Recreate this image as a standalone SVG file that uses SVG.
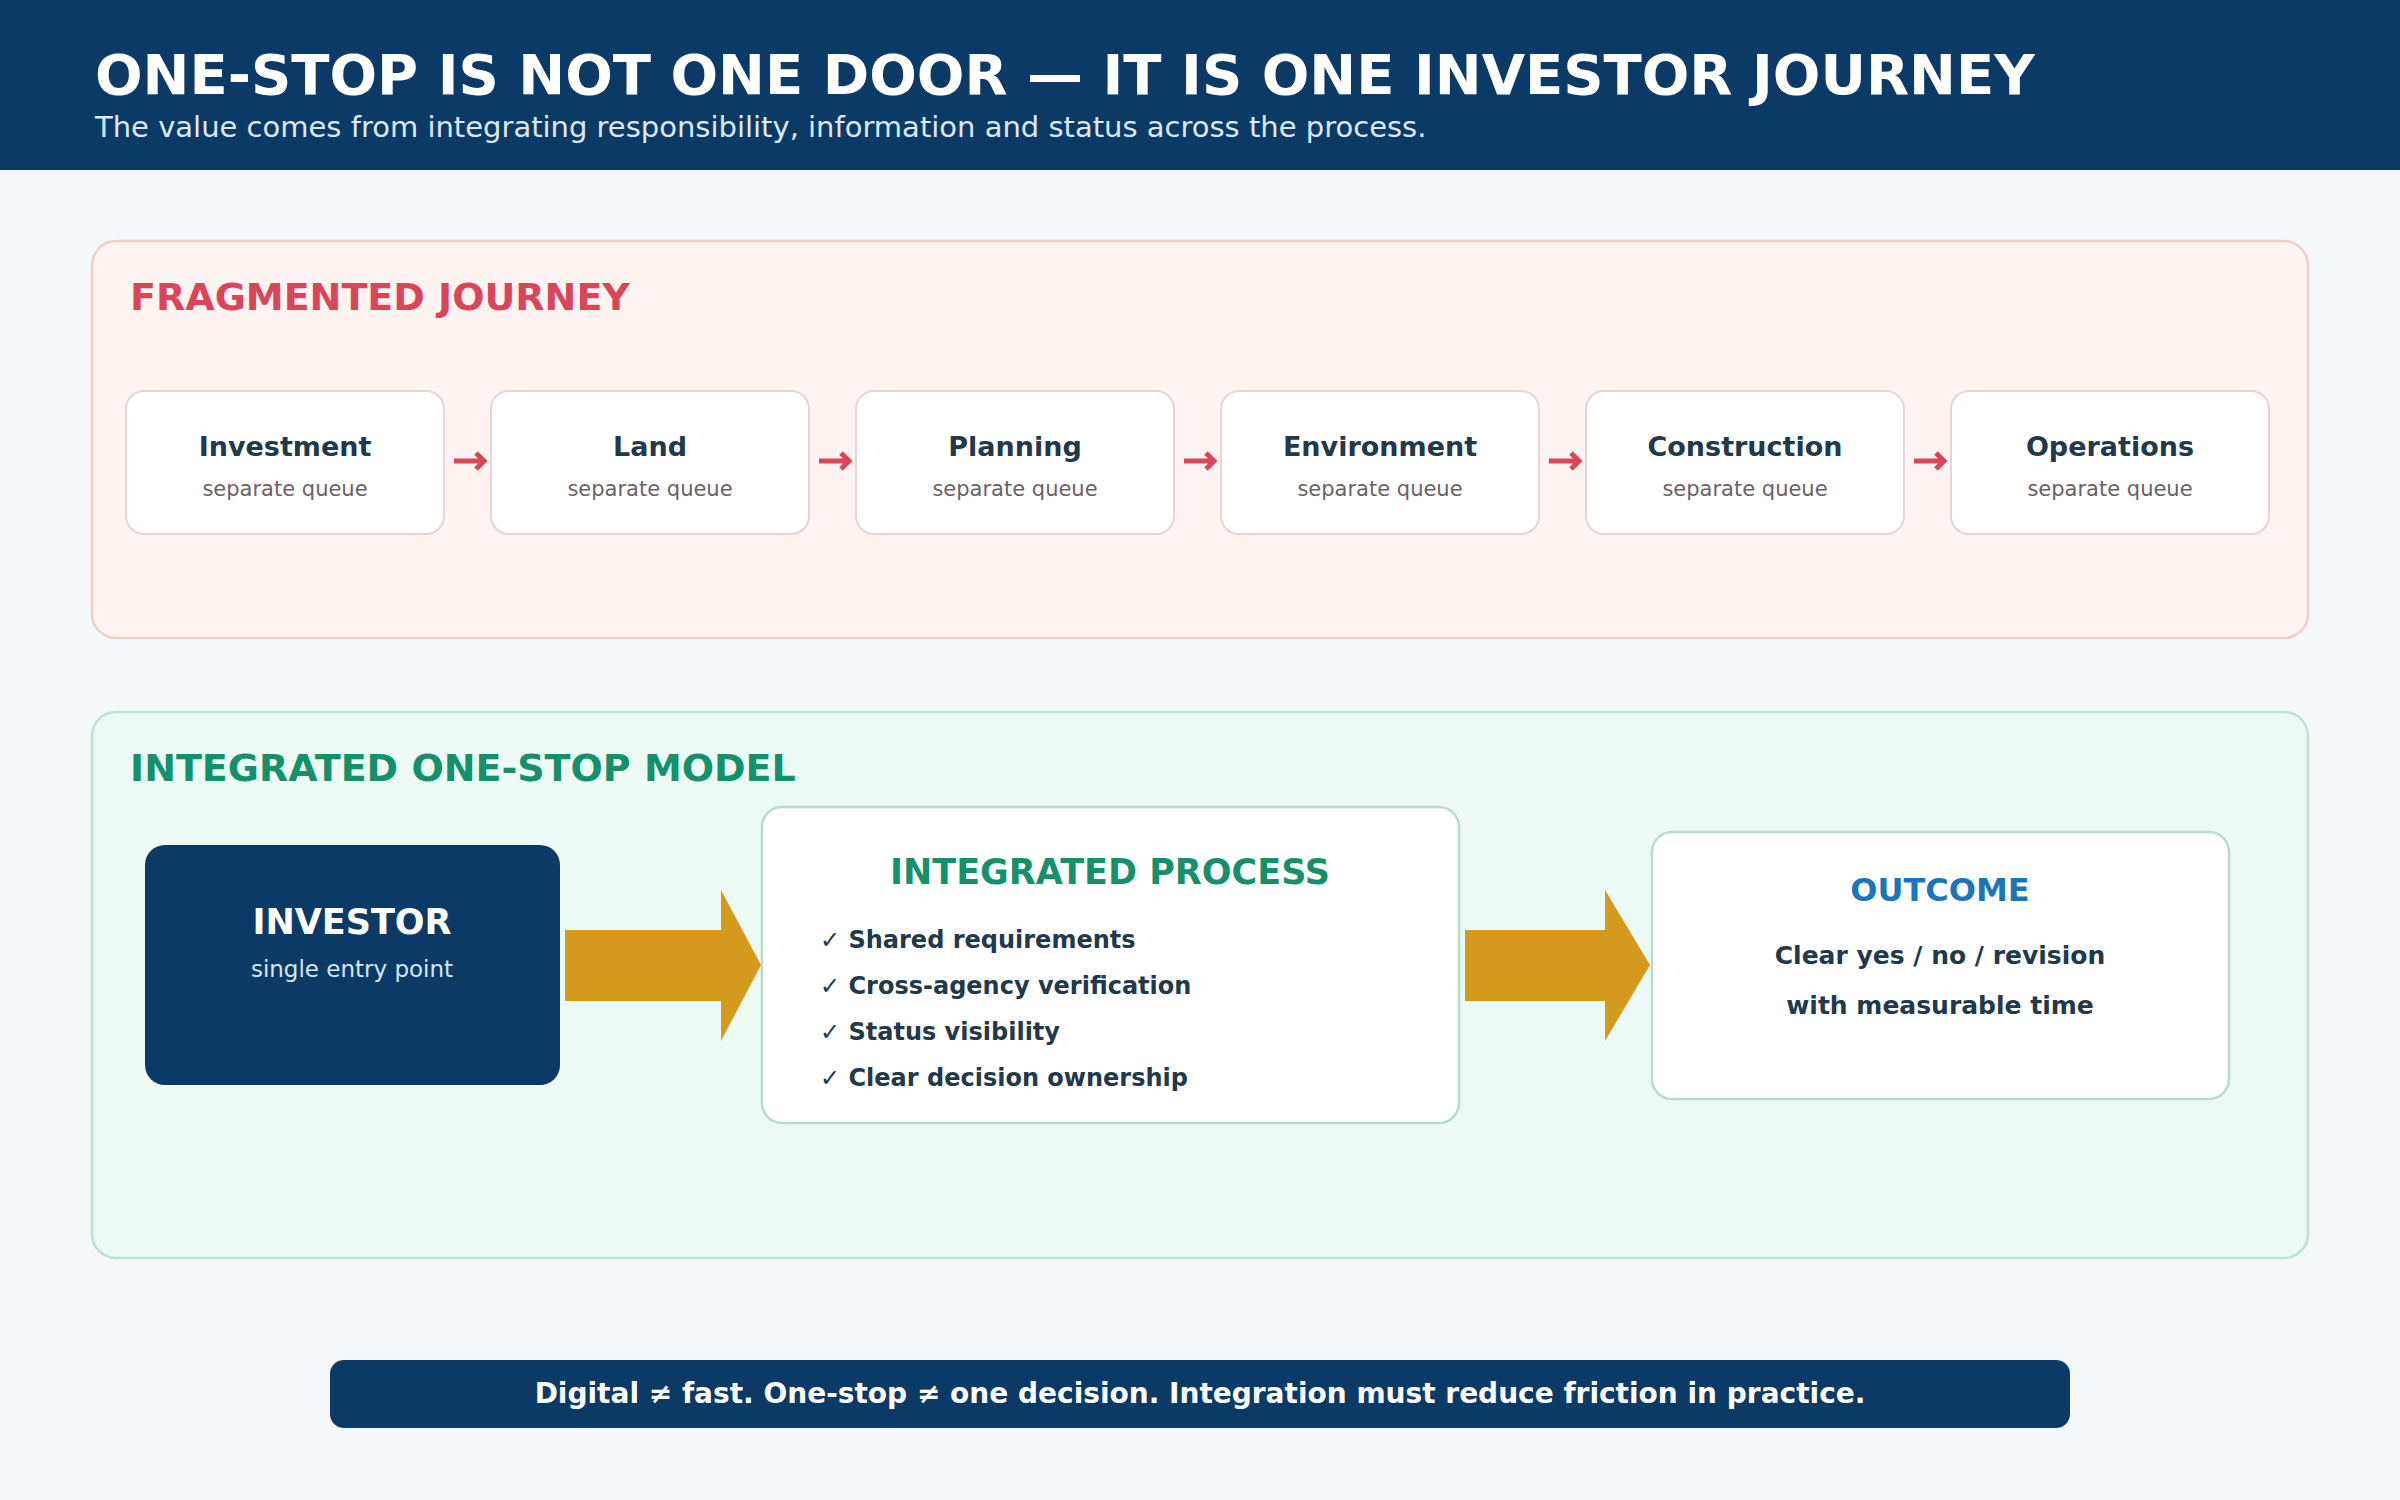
<svg xmlns="http://www.w3.org/2000/svg" width="2400" height="1500" viewBox="0 0 2400 1500">
<style>
text{font-family:"DejaVu Sans","Liberation Sans",sans-serif}
.b{font-weight:bold}
.step{fill:#ffffff;stroke:#e6d6d2;stroke-width:2}
.stepT{font-size:27px;font-weight:bold;fill:#22384b;text-anchor:middle}
.stepS{font-size:21px;fill:#6c6165;text-anchor:middle}
.red{stroke:#d9465a;stroke-width:5;fill:none}
.gold{fill:#d39a1e}
.chk{font-size:24px;font-weight:bold;fill:#22384b}
.card{fill:#ffffff;stroke:#b8dccd;stroke-width:2.5}
</style>
<rect x="0" y="0" width="2400" height="1500" fill="#f4f8fb"/>
<g id="header">
<rect x="0" y="0" width="2400" height="170" fill="#0c3a66"/>
<text x="95" y="94" class="b" font-size="56" fill="#ffffff">ONE-STOP IS NOT ONE DOOR — IT IS ONE INVESTOR JOURNEY</text>
<text x="95" y="137" font-size="29" fill="#dce9f5">The value comes from integrating responsibility, information and status across the process.</text>
</g>
<g id="fragmented-panel">
<rect x="92" y="241" width="2216" height="397" rx="24" fill="#fdf4f1" stroke="#edd0c9" stroke-width="2.5"/>
<text x="130" y="310" class="b" font-size="38" fill="#d9465a">FRAGMENTED JOURNEY</text>
</g>
<g id="step-investment"><rect class="step" x="126" y="391" width="318" height="143" rx="18"/><text class="stepT" x="285" y="456">Investment</text><text class="stepS" x="285" y="496">separate queue</text></g>
<g id="step-land"><rect class="step" x="491" y="391" width="318" height="143" rx="18"/><text class="stepT" x="650" y="456">Land</text><text class="stepS" x="650" y="496">separate queue</text></g>
<g id="step-planning"><rect class="step" x="856" y="391" width="318" height="143" rx="18"/><text class="stepT" x="1015" y="456">Planning</text><text class="stepS" x="1015" y="496">separate queue</text></g>
<g id="step-environment"><rect class="step" x="1221" y="391" width="318" height="143" rx="18"/><text class="stepT" x="1380" y="456">Environment</text><text class="stepS" x="1380" y="496">separate queue</text></g>
<g id="step-construction"><rect class="step" x="1586" y="391" width="318" height="143" rx="18"/><text class="stepT" x="1745" y="456">Construction</text><text class="stepS" x="1745" y="496">separate queue</text></g>
<g id="step-operations"><rect class="step" x="1951" y="391" width="318" height="143" rx="18"/><text class="stepT" x="2110" y="456">Operations</text><text class="stepS" x="2110" y="496">separate queue</text></g>
<g id="integrated-panel">
<rect x="92" y="712" width="2216" height="546" rx="24" fill="#edf9f4" stroke="#bfe2d3" stroke-width="2.5"/>
<text x="130" y="781" class="b" font-size="38" fill="#14906b">INTEGRATED ONE-STOP MODEL</text>
</g>
<g id="investor">
<rect x="145" y="845" width="415" height="240" rx="20" fill="#0c3a66"/>
<text x="352" y="934" class="b" font-size="35" fill="#ffffff" text-anchor="middle">INVESTOR</text>
<text x="352" y="977" font-size="23" fill="#d8e6f3" text-anchor="middle">single entry point</text>
</g>
<g id="process">
<rect class="card" x="762" y="807" width="697" height="316" rx="20"/>
<text x="1110" y="884" class="b" font-size="35" fill="#14906b" text-anchor="middle">INTEGRATED PROCESS</text>
<text class="chk" x="820" y="948">✓ Shared requirements</text>
<text class="chk" x="820" y="994">✓ Cross-agency verification</text>
<text class="chk" x="820" y="1040">✓ Status visibility</text>
<text class="chk" x="820" y="1086">✓ Clear decision ownership</text>
</g>
<g id="outcome">
<rect class="card" x="1652" y="832" width="577" height="267" rx="20"/>
<text x="1940" y="901" class="b" font-size="32" fill="#1b75bb" text-anchor="middle">OUTCOME</text>
<text x="1940" y="964" class="b" font-size="25" fill="#22384b" text-anchor="middle">Clear yes / no / revision</text>
<text x="1940" y="1014" class="b" font-size="25" fill="#22384b" text-anchor="middle">with measurable time</text>
</g>
<g id="connectors">
<g class="red">
<path d="M454 461H481M476 453L484 461L476 469"/>
<path d="M819 461H846M841 453L849 461L841 469"/>
<path d="M1184 461H1211M1206 453L1214 461L1206 469"/>
<path d="M1549 461H1576M1571 453L1579 461L1571 469"/>
<path d="M1914 461H1941M1936 453L1944 461L1936 469"/>
</g>
<polygon class="gold" points="565,930 721,930 721,890 761,965 721,1041 721,1001 565,1001"/>
<polygon class="gold" points="1465,930 1605,930 1605,890 1650,965 1605,1041 1605,1001 1465,1001"/>
</g>
<g id="banner">
<rect x="330" y="1360" width="1740" height="68" rx="14" fill="#0c3a66"/>
<text x="1200" y="1403" class="b" font-size="28" fill="#ffffff" text-anchor="middle">Digital ≠ fast. One-stop ≠ one decision. Integration must reduce friction in practice.</text>
</g>
</svg>
